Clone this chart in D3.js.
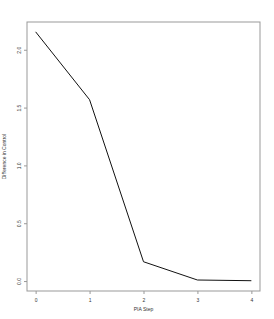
<!DOCTYPE html>
<html>
<head>
<meta charset="utf-8">
<script src="https://cdn.jsdelivr.net/npm/d3@7"></script>
<style>
  body { margin: 0; background: #fff; }
  svg { display: block; font-family: "Liberation Sans", Arial, sans-serif; }
</style>
</head>
<body>
<svg width="274" height="319"></svg>
<script>
const steps = [0, 1, 2, 3, 4];
const diffs = [2.155, 1.568, 0.167, 0.009, 0.003];
const yTicks = [0.0, 0.5, 1.0, 1.5, 2.0];

const margin = {top: 22, right: 14, bottom: 28, left: 27},
      width = 274 - margin.left - margin.right,
      height = 319 - margin.top - margin.bottom;

const svg = d3.select("svg")
  .append("g")
    .attr("transform", "translate(" + margin.left + "," + margin.top + ")");

//--------------SCALES---------------------------------------
const xScale = d3.scaleLinear()
                 .domain([-0.16, 4.16])
                 .range([0, width]);

const yScale = d3.scaleLinear()
                 .domain([-0.086, 2.24])
                 .range([height, 0]);

//--------------BOX + AXES----------------------------------
svg.append("rect")
   .attr("x", 0).attr("y", 0)
   .attr("width", width).attr("height", height)
   .attr("fill", "none")
   .attr("stroke", "#999")
   .attr("stroke-width", 1);

const xx = d3.axisBottom(xScale).tickValues(steps).tickSize(3).tickFormat(d3.format("d"));
const yy = d3.axisLeft(yScale).tickValues(yTicks).tickSize(3).tickFormat(d3.format(".1f"));

const axisX = svg.append("g")
   .attr("transform", "translate(0," + height + ")")
   .call(xx);
axisX.select(".domain").remove();
axisX.selectAll("line").attr("stroke", "#999");
axisX.selectAll("text").attr("font-size", 5).attr("fill", "#333").attr("dy", "0.9em");

const axisY = svg.append("g").call(yy);
axisY.select(".domain").remove();
axisY.selectAll("line").attr("stroke", "#999");
// R style: labels parallel to the axis
axisY.selectAll("text")
     .attr("font-size", 5).attr("fill", "#333")
     .attr("text-anchor", "middle")
     .attr("transform", "rotate(-90)")
     .attr("x", 0)
     .attr("y", -6)
     .attr("dy", 0);

//--------------LABELS---------------------------------------
svg.append("text")
   .attr("x", width / 2)
   .attr("y", height + 20)
   .attr("text-anchor", "middle")
   .attr("font-size", 5)
   .attr("fill", "#333")
   .text("PIA Step");

svg.append("text")
   .attr("transform", "rotate(-90)")
   .attr("x", -height / 2)
   .attr("y", -21)
   .attr("text-anchor", "middle")
   .attr("font-size", 5)
   .attr("fill", "#333")
   .text("Difference in Control");

//--------------LINE-----------------------------------------
const line = d3.line()
  .x((d, i) => xScale(steps[i]))
  .y(d => yScale(d));

svg.append("path")
   .datum(diffs)
   .attr("fill", "none")
   .attr("stroke", "#111")
   .attr("stroke-width", 1)
   .attr("d", line);
</script>
</body>
</html>
